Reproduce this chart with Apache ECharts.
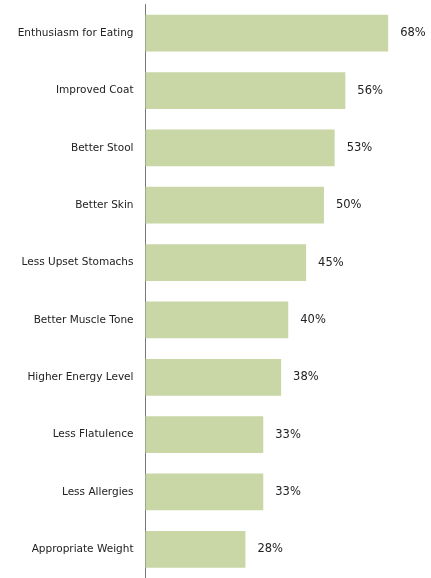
<!DOCTYPE html>
<html><head><meta charset="utf-8">
<script src="https://cdn.jsdelivr.net/npm/echarts@6/dist/echarts.min.js"></script>
<style>html,body{margin:0;padding:0;background:#fff}#c{width:431px;height:578px}</style>
</head><body><div id="c"></div>
<script>
const categories = ["Enthusiasm for Eating","Improved Coat","Better Stool","Better Skin","Less Upset Stomachs","Better Muscle Tone","Higher Energy Level","Less Flatulence","Less Allergies","Appropriate Weight"];
const values = [68,56,53,50,45,40,38,33,33,28];

const chart = echarts.init(document.getElementById('c'));
chart.setOption({
  animation:false,
  grid:{left:145.5, top:4.5, width:291.5, height:579, containLabel:false},
  xAxis:{type:'value', min:0, max:80, show:false},
  yAxis:{type:'category', inverse:true, data:categories,
    axisLine:{show:true, lineStyle:{color:'#777', width:1}},
    axisTick:{show:false},
    axisLabel:{margin:12, fontFamily:'DejaVu Sans', fontSize:10.5, color:'#222'}},
  series:[{type:'bar', data:values, barCategoryGap:'36%',
    itemStyle:{color:'#c9d6a6'},
    label:{show:true, position:'right', distance:12, formatter:'{c}%', fontFamily:'DejaVu Sans', fontSize:11.5, color:'#222'}}]
});
</script></body></html>
